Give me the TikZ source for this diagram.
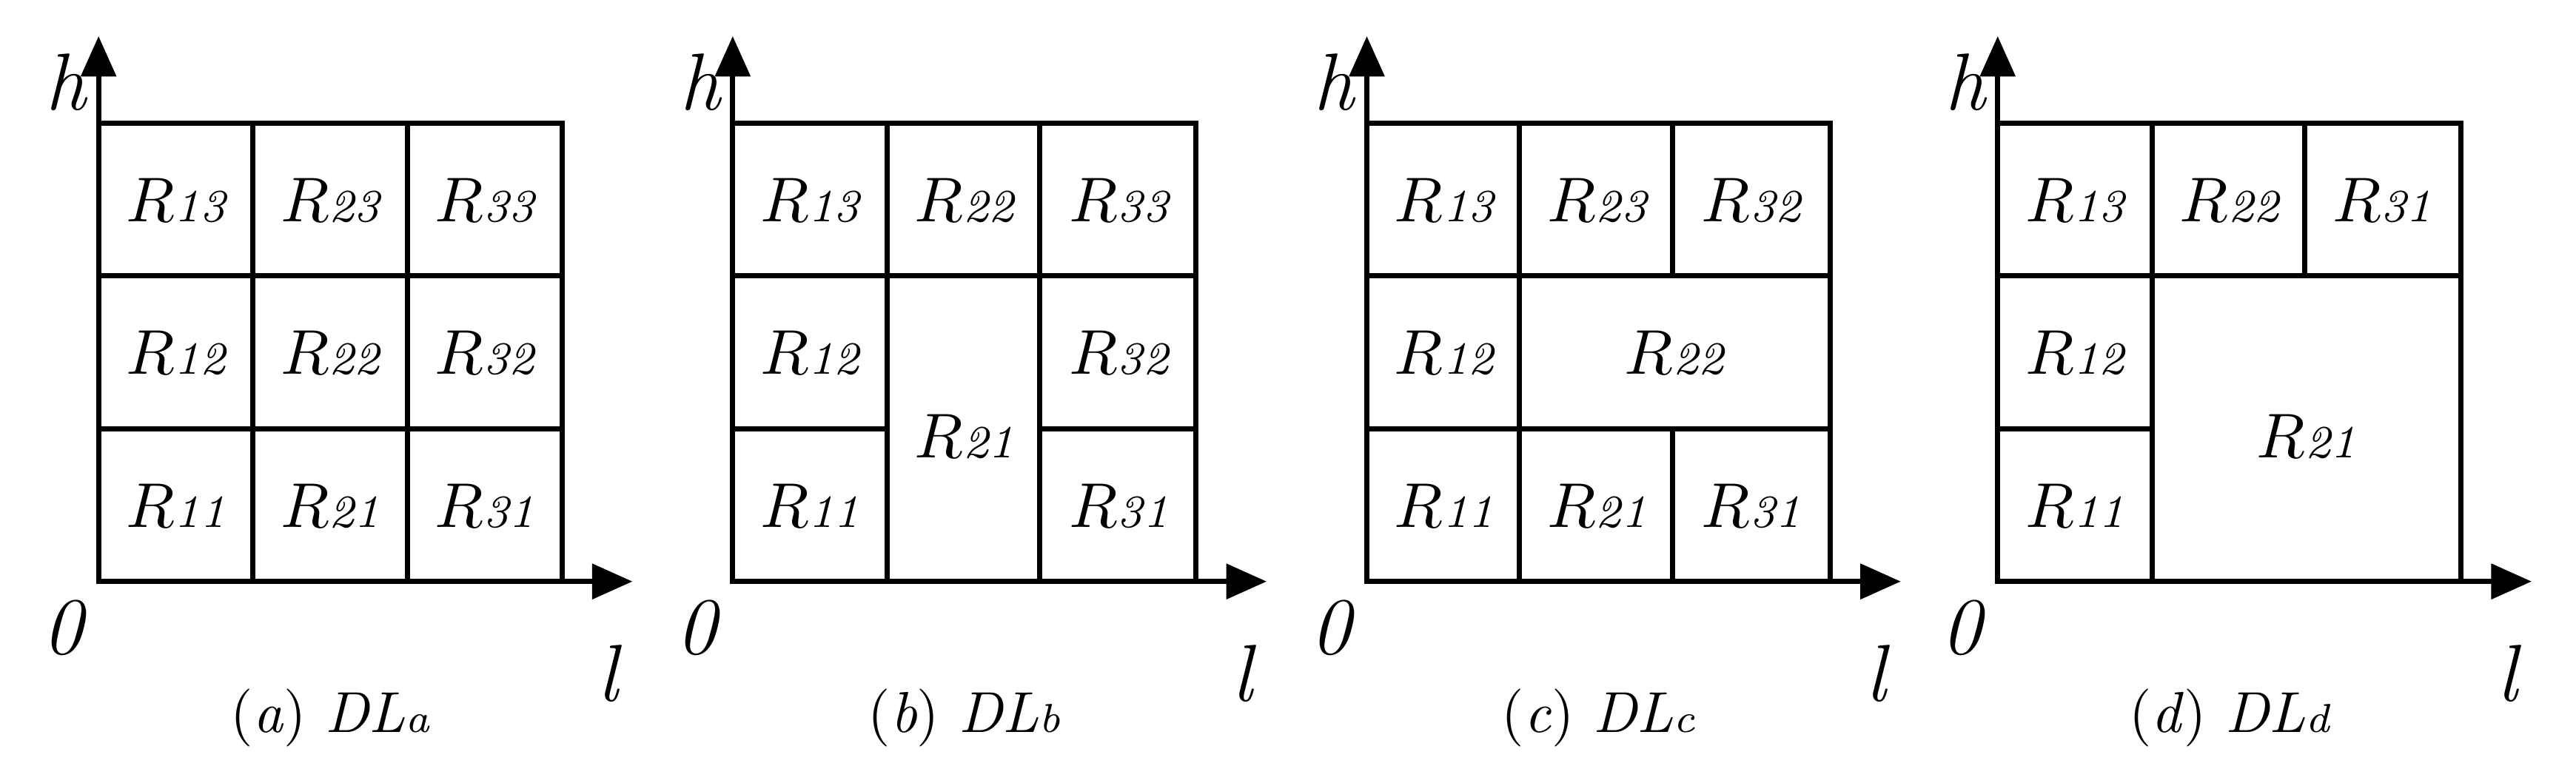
\documentclass[tikz,border=0pt]{standalone}
\usetikzlibrary{arrows.meta}
\begin{document}
\begin{tikzpicture}[x=0.01cm,y=-0.01cm,
  ln/.style={line width=0.9pt},
  ax/.style={line width=0.9pt,-{Triangle[length=7pt,width=6pt]}},
  lab/.style={font=\fontsize{11}{13}\selectfont\itshape,inner sep=0pt},
  captxt/.style={font=\fontsize{10}{12}\selectfont,inner sep=0pt}]
\useasboundingbox (0,0) rectangle (1568,466);
\newcommand{\RR}[1]{$R${\fontsize{8}{10}\selectfont\itshape #1}}
\newcommand{\axes}[3]{%
  \coordinate (#1o) at (#2,354);
  \coordinate (#1x) at (#2+325,354);
  \coordinate (#1y) at (#2,22);
  \draw[ax] (#1o) -- (#1x);
  \draw[ax] (#1o) -- (#1y);
  \draw[ln] (#2,75) rectangle (#2+282,354);
  \node[lab,font=\fontsize{14}{16}\selectfont\itshape] (#1h) at (#2-20,50) {h};
  \node[lab,font=\fontsize{14}{16}\selectfont\itshape] (#1z) at (#2-22,382) {0};
  \node[lab,font=\fontsize{14}{16}\selectfont\itshape] (#1l) at (#2+310,410) {l};
  \node[captxt] (#1c) at (#2+141,437) {(#3};}
% (a)
\axes{a}{60}{\textit{a}) \textit{DL}{\fontsize{7}{8}\selectfont\itshape a}}
\draw[ln] (154,75)--(154,354) (248,75)--(248,354) (60,168)--(342,168) (60,261)--(342,261);
\node[lab] (a13) at (107,122) {\RR{13}};
\node[lab] (a23) at (201,122) {\RR{23}};
\node[lab] (a33) at (295,122) {\RR{33}};
\node[lab] (a12) at (107,215) {\RR{12}};
\node[lab] (a22) at (201,215) {\RR{22}};
\node[lab] (a32) at (295,215) {\RR{32}};
\node[lab] (a11) at (107,308) {\RR{11}};
\node[lab] (a21) at (201,308) {\RR{21}};
\node[lab] (a31) at (295,308) {\RR{31}};
% (b)
\axes{b}{446}{\textit{b}) \textit{DL}{\fontsize{7}{8}\selectfont\itshape b}}
\draw[ln] (540,75)--(540,354) (633,75)--(633,354) (446,168)--(728,168) (446,261)--(540,261) (633,261)--(728,261);
\node[lab] (b13) at (493,122) {\RR{13}};
\node[lab] (b22) at (587,122) {\RR{22}};
\node[lab] (b33) at (681,122) {\RR{33}};
\node[lab] (b12) at (493,215) {\RR{12}};
\node[lab] (b21) at (587,266) {\RR{21}};
\node[lab] (b32) at (681,215) {\RR{32}};
\node[lab] (b11) at (493,308) {\RR{11}};
\node[lab] (b31) at (681,308) {\RR{31}};
% (c)
\axes{c}{832}{\textit{c}) \textit{DL}{\fontsize{7}{8}\selectfont\itshape c}}
\draw[ln] (925,75)--(925,354) (1018,75)--(1018,168) (1018,261)--(1018,354) (832,168)--(1114,168) (832,261)--(1114,261);
\node[lab] (c13) at (879,122) {\RR{13}};
\node[lab] (c23) at (972,122) {\RR{23}};
\node[lab] (c32) at (1066,122) {\RR{32}};
\node[lab] (c12) at (879,215) {\RR{12}};
\node[lab] (c22) at (1019,215) {\RR{22}};
\node[lab] (c11) at (879,308) {\RR{11}};
\node[lab] (c21) at (972,308) {\RR{21}};
\node[lab] (c31) at (1066,308) {\RR{31}};
% (d)
\axes{d}{1216}{\textit{d}) \textit{DL}{\fontsize{7}{8}\selectfont\itshape d}}
\draw[ln] (1310,75)--(1310,354) (1403,75)--(1403,168) (1216,168)--(1498,168) (1216,261)--(1310,261);
\node[lab] (d13) at (1263,122) {\RR{13}};
\node[lab] (d22) at (1357,122) {\RR{22}};
\node[lab] (d31) at (1450,122) {\RR{31}};
\node[lab] (d12) at (1263,215) {\RR{12}};
\node[lab] (d21) at (1404,266) {\RR{21}};
\node[lab] (d11) at (1263,308) {\RR{11}};
\end{tikzpicture}
\end{document}
